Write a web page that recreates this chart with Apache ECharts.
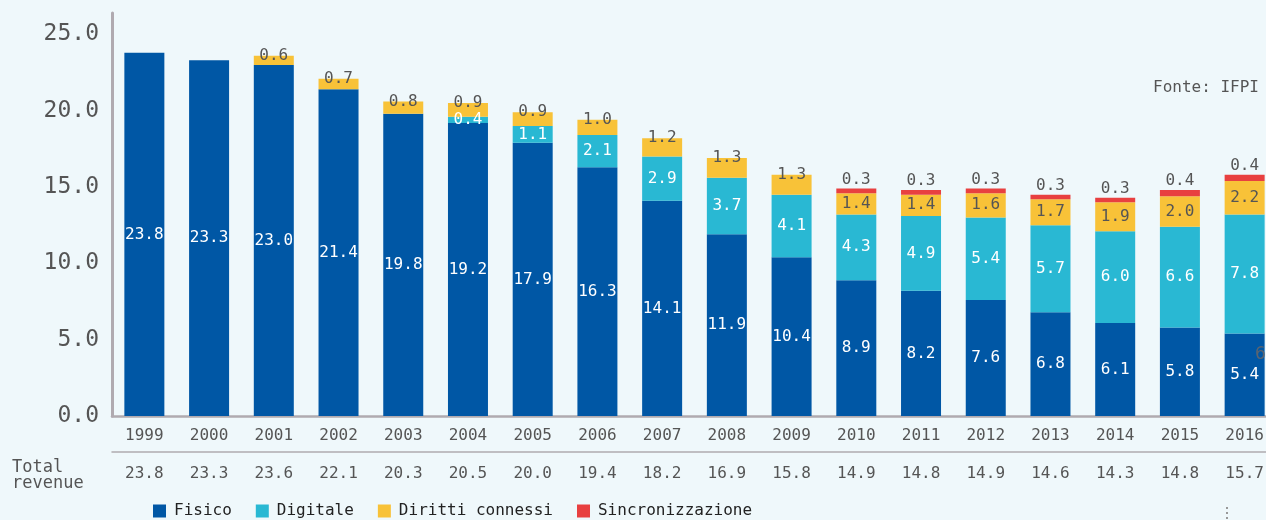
<!DOCTYPE html>
<html lang="it">
<head>
	<meta charset="UTF-8">
	<title>Ricavi musica</title>
	<script src="https://cdn.jsdelivr.net/npm/echarts@6/dist/echarts.min.js"></script>
	<style>
		html, body { margin: 0; padding: 0; background: #eff8fb; overflow: hidden; }
	</style>
</head>
<body>
	<!-- piu largo della finestra: l'ultima barra e tagliata come nell'originale -->
	<div id="chart" style="width: 1290px;height: 520px;"></div>
<script>
	// dati (miliardi USD)
	const years = ['1999', '2000', '2001', '2002', '2003', '2004', '2005', '2006', '2007', '2008', '2009', '2010', '2011', '2012', '2013', '2014', '2015', '2016']
	const fisico = [23.8, 23.3, 23.0, 21.4, 19.8, 19.2, 17.9, 16.3, 14.1, 11.9, 10.4, 8.9, 8.2, 7.6, 6.8, 6.1, 5.8, 5.4]
	const digitale = [null, null, null, null, null, 0.4, 1.1, 2.1, 2.9, 3.7, 4.1, 4.3, 4.9, 5.4, 5.7, 6.0, 6.6, 7.8]
	const diritti = [null, null, 0.6, 0.7, 0.8, 0.9, 0.9, 1.0, 1.2, 1.3, 1.3, 1.4, 1.4, 1.6, 1.7, 1.9, 2.0, 2.2]
	const sincro = [null, null, null, null, null, null, null, null, null, null, null, 0.3, 0.3, 0.3, 0.3, 0.3, 0.4, 0.4]
	const totals = [23.8, 23.3, 23.6, 22.1, 20.3, 20.5, 20.0, 19.4, 18.2, 16.9, 15.8, 14.9, 14.8, 14.9, 14.6, 14.3, 14.8, 15.7]

	const mono = 'DejaVu Sans Mono'
	const fmt = p => (p.value == null ? '' : p.value.toFixed(1))

	let chart = echarts.init(document.getElementById('chart'))

	// etichette dei diritti: sul bordo alto finche non c'e sincronizzazione
	const dirittiData = diritti.map((v, i) => {
		if (sincro[i] == null) {
			return { value: v, label: { position: ['50%', 0], align: 'center', verticalAlign: 'middle' } }
		}
		return v
	})

	let option = {
		backgroundColor: '#eff8fb',
		textStyle: { fontFamily: mono },
		grid: { left: 112, top: 13, width: 1165, height: 403 },
		legend: {
			left: 148, top: 498,
			icon: 'rect', itemWidth: 13, itemHeight: 13, itemGap: 24,
			textStyle: { fontFamily: mono, fontSize: 16, color: '#222', padding: [0, 0, 0, 3] },
			data: ['Fisico', 'Digitale', 'Diritti connessi', 'Sincronizzazione']
		},
		xAxis: [
			{
				type: 'category', data: years,
				axisLine: { lineStyle: { color: '#b0aab0', width: 2.5 } },
				axisTick: { show: false },
				axisLabel: { color: '#555', fontSize: 16, margin: 12, fontFamily: mono }
			},
			{
				type: 'category', position: 'bottom', offset: 36,
				data: totals.map(v => v.toFixed(1)),
				axisLine: { lineStyle: { color: '#b0aab0', width: 1.5 } },
				axisTick: { show: false },
				axisLabel: { color: '#555', fontSize: 16, margin: 14, fontFamily: mono }
			}
		],
		yAxis: {
			type: 'value', min: 0, max: 26.4, interval: 5,
			axisLine: { show: true, lineStyle: { color: '#b0aab0', width: 3 } },
			axisTick: { show: false },
			splitLine: { show: false },
			axisLabel: {
				color: '#555', fontSize: 23, margin: 13, fontFamily: mono,
				formatter: v => (v % 5 === 0 ? v.toFixed(1) : '')
			}
		},
		series: [
			{
				name: 'Fisico', type: 'bar', stack: 'tot', barWidth: 40,
				itemStyle: { color: '#0057a5' },
				label: { show: true, position: 'inside', color: '#fff', fontSize: 16, fontFamily: mono, formatter: fmt },
				data: fisico
			},
			{
				name: 'Digitale', type: 'bar', stack: 'tot',
				itemStyle: { color: '#29b8d3' },
				label: { show: true, position: 'inside', color: '#fff', fontSize: 16, fontFamily: mono, formatter: fmt },
				data: digitale
			},
			{
				name: 'Diritti connessi', type: 'bar', stack: 'tot',
				itemStyle: { color: '#f8c238' },
				label: { show: true, position: 'inside', color: '#555', fontSize: 16, fontFamily: mono, formatter: fmt },
				data: dirittiData
			},
			{
				name: 'Sincronizzazione', type: 'bar', stack: 'tot',
				itemStyle: { color: '#e84040' },
				label: { show: true, position: 'top', distance: 1, color: '#555', fontSize: 16, fontFamily: mono, formatter: fmt },
				data: sincro
			}
		],
		graphic: [
			{
				type: 'text', left: 12, top: 459,
				style: { text: 'Total\nrevenue', font: '17px "DejaVu Sans Mono"', fill: '#555', lineHeight: 16 }
			},
			{
				type: 'text', left: 1153, top: 80,
				style: { text: 'Fonte: IFPI', font: '16px "DejaVu Sans Mono"', fill: '#555' }
			},
			{
				type: 'text', left: 1255, top: 345, z: 100,
				style: { text: '6', font: '18px "DejaVu Sans Mono"', fill: '#5a6470' }
			},
			{
				type: 'line', shape: { x1: 1227, y1: 507, x2: 1227, y2: 520 },
				style: { stroke: '#999', lineWidth: 2, lineDash: [2, 3] }
			}
		]
	}

	chart.setOption(option)
</script>
</body>
</html>
